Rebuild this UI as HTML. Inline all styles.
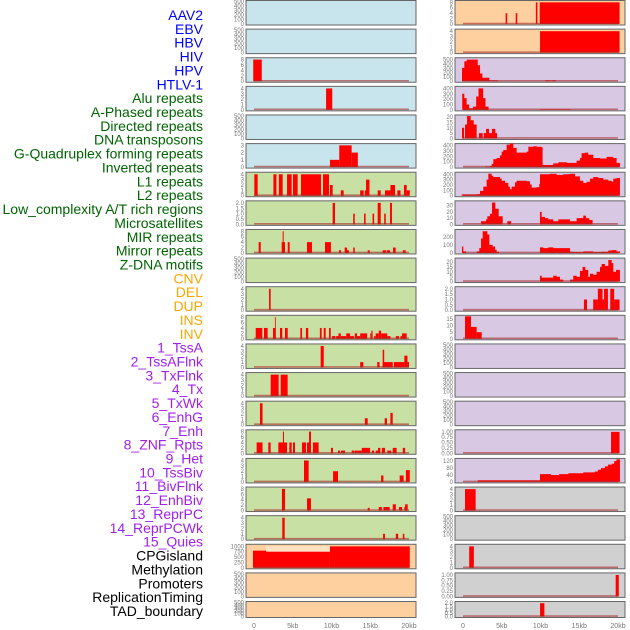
<!DOCTYPE html>
<html><head><meta charset="utf-8"><style>
html,body{margin:0;padding:0;background:#fff}
svg{display:block}
.lab{font-family:"Liberation Sans",sans-serif;font-size:14px}
.tk{font-family:"Liberation Sans",sans-serif;font-size:6px;fill:#777}
</style></head><body>
<svg id="chart" width="630" height="630" viewBox="0 0 630 630" xmlns="http://www.w3.org/2000/svg"></svg>
<script>
// ---- data ----
const rowLabels = ["AAV2","EBV","HBV","HIV","HPV","HTLV-1","Alu repeats","A-Phased repeats","Directed repeats","DNA transposons","G-Quadruplex forming repeats","Inverted repeats","L1 repeats","L2 repeats","Low_complexity A/T rich regions","Microsatellites","MIR repeats","Mirror repeats","Z-DNA motifs","CNV","DEL","DUP","INS","INV","1_TssA","2_TssAFlnk","3_TxFlnk","4_Tx","5_TxWk","6_EnhG","7_Enh","8_ZNF_Rpts","9_Het","10_TssBiv","11_BivFlnk","12_EnhBiv","13_ReprPC","14_ReprPCWk","15_Quies","CPGisland","Methylation","Promoters","ReplicationTiming","TAD_boundary"];
const labelGroups = [0,0,0,0,0,0,1,1,1,1,1,1,1,1,1,1,1,1,1,2,2,2,2,2,3,3,3,3,3,3,3,3,3,3,3,3,3,3,3,4,4,4,4,4];
const groupColors = ["#0000ff","#006400","#ffa500","#a020f0","#000000"];
const xTickVals = [0,5,10,15,20];
const xTickLabels = ["0","5kb","10kb","15kb","20kb"];

// left panel bg and scale
const leftBg = ["b","b","b","b","b","b","g","g","g","g","g","g","g","g","g","g","g","g","g","o","o","o"];
const rightBg = ["o","o","p","p","p","p","p","p","p","p","p","p","p","p","p","p","p","x","x","x","x","x"];
const leftMax = [500,500,8.3,4.2,500,3.1,4.2,2.1,8.3,500,4.2,8.3,4.2,4.2,4.2,8.3,4.2,8.3,4.2,1050,500,500];
const rightMax = [8.3,4.2,520,420,21,420,420,36,280,23,2.1,17,500,500,500,1.05,130,4.2,500,4.2,1.05,2.1];
const T500=["0","100","200","300","400","500"], T4=["0","1","2","3","4"], T8=["0","2","4","6","8"], T3=["0","1","2","3"], T2=["0.0","0.5","1.0","1.5","2.0"], T1=["0.00","0.25","0.50","0.75","1.00"];
const leftTicks = [T500,T500,T8,T4,T500,T3,T4,T2,T8,T500,T4,T8,T4,T4,T4,T8,T4,T8,T4,["0","250","500","750","1000"],T500,T500];
const rightTicks = [T8,T4,T500,["0","100","200","300","400"],["0","5","10","15","20"],["0","100","200","300","400"],["0","100","200","300","400"],["0","10","20","30"],["0","100","200"],["0","5","10","15","20"],T2,["0","5","10","15"],T500,T500,T500,T1,["0","40","80","120"],T4,T500,T4,T1,T2];

// left bars [startKb, endKb, value]
const L2 = [[-0.1,1.0,8]];
const L3 = [[9.3,10.1,4]];
const L5 = [[9.8,11.0,1],[11.0,12.6,3],[12.6,13.4,2]];
const L6 = [[0.04,0.47,4],[2.5,2.9,4],[3.2,3.7,4],[4.26,4.86,4],[5.03,5.63,4],[6.06,8.65,4],[8.9,9.68,4],[9.8,10.15,2],[11.2,11.57,1],[13.7,14.15,1],[14.3,14.45,1],[14.45,14.9,3],[15.96,16.35,1],[16.9,17.6,1],[17.6,18.2,2],[18.5,18.9,1],[19.35,19.7,2],[19.7,20.1,1]];
const L7 = [[10.15,10.45,2],[12.8,13.0,1],[14.2,14.4,1],[15.3,15.5,1],[15.96,16.35,2],[16.8,17.0,1],[17.55,17.8,2]];
const L8 = [[0.6,0.87,4],[3.57,4.0,4],[3.7,3.83,8],[4.35,4.6,4],[6.84,7.48,4],[9.16,9.93,4],[10.97,11.23,1],[11.7,12.0,2],[12.0,12.26,1],[12.8,13.0,2],[14.67,14.93,1],[16.6,17.07,1],[17.16,17.55,1],[17.94,18.28,2],[19.2,19.57,1]];
const L10 = [[1.94,2.15,4]];
const L11 = [[0.22,1.07,4],[1.29,1.76,4],[2.45,2.8,4],[2.7,2.8,8],[3.35,3.65,4],[4.0,4.35,4],[5.98,6.2,4],[6.7,7.0,4],[8.5,8.73,4],[9.0,9.25,4],[9.68,9.9,4],[10.06,10.5,1],[10.6,10.9,1],[10.9,11.2,2],[11.2,11.9,1],[11.9,12.4,2],[12.4,12.9,1],[13.0,13.3,2],[13.3,13.7,1],[13.7,14.6,2],[15.0,15.15,2],[15.15,15.3,3],[15.5,15.7,1],[15.7,16.1,2],[16.1,16.4,3],[16.4,17.2,2],[17.2,17.6,1],[18.3,18.7,1],[18.9,19.1,1],[19.1,19.7,2]];
const L12 = [[8.6,9.0,4],[13.7,14.1,1],[15.9,16.2,1],[16.6,17.9,1],[16.6,16.8,3.3],[18.05,19.4,1],[19.4,19.8,2.2],[19.8,20.0,1]];
const L13 = [[2.15,3.18,4],[3.44,4.34,4]];
const L14 = [[0.77,1.1,4],[14.3,14.67,1.2],[16.86,17.16,1.2],[17.6,17.9,2.2]];
const L15 = [[0.34,1.1,4],[1.85,2.15,4],[3.14,4.26,4],[3.74,3.87,8],[4.56,4.86,4],[5.03,5.29,4],[6.19,6.71,4],[6.84,7.35,4],[7.1,7.35,8],[7.6,8.34,4],[9.93,10.19,2],[10.84,11.1,1],[11.23,11.74,1],[12.6,12.9,1],[12.96,13.4,1],[13.4,13.9,1],[13.9,14.97,2],[15.2,15.5,1],[15.7,16.0,1],[16.0,16.3,2],[16.5,16.9,2],[17.2,17.7,1],[17.9,18.4,2],[19.2,19.5,2]];
const L16 = [[6.45,7.05,4],[10.2,10.84,2],[16.4,16.7,1.2],[18.8,19.3,1.2],[19.6,20.1,2.2]];
const L17 = [[3.6,4.0,8],[6.84,7.35,4.5],[14.67,14.93,1],[16.1,16.5,1.3],[16.7,17.5,1.3],[17.9,18.3,2.3],[18.7,19.1,1.3],[19.4,19.6,1.3],[19.5,19.83,2.3]];
const L18 = [[3.65,3.96,4],[16.65,16.9,1],[18.3,18.6,1],[19.2,19.4,1]];
const L19 = [[-0.13,1.55,800],[1.55,9.8,750],[9.8,20.1,1000]];
const L19pale = [[1.55,9.8,1000]];

// right bars
const R0 = [[5.5,5.7,4],[6.8,7.0,4],[9.4,9.6,8],[9.9,20.2,8]];
const R1 = [[9.94,20.2,4]];
const R10 = [[15.6,16.0,1],[16.8,17.4,1],[17.4,18.0,2],[18.0,18.2,1],[18.2,18.7,2],[19.0,19.5,2],[19.5,20.2,1]];
const R11 = [[0.26,1.03,17],[1.03,1.76,9],[1.76,2.41,5]];
const R15 = [[19.1,20.2,1]];
const R17 = [[0.26,1.63,4]];
const R19 = [[0.8,1.4,4]];
const R20 = [[19.7,20.1,1]];
const R21 = [[9.94,10.5,2]];

// right step series: edges (kb) and values per interval
const R2_edges = [-0.13,0.17,0.47,1.9,2.2,2.5,3.4,4.5,10.6,11.3,11.4,12.0];
const R2_vals = [310,460,500,370,180,80,20,0,20,0,20];
const R3_edges = [-0.1,0.17,0.47,0.8,1.3,1.7,2.0,2.6,2.9,3.3,9.9,13.9];
const R3_vals = [300,220,100,30,60,250,400,220,60,0,10];
const R4_edges = [-0.13,0.13,0.26,0.52,0.99,1.38,1.76,2.06,2.54,2.67,2.97,3.36,3.74,4.17,4.4];
const R4_vals = [10,0,13,21,17,13,0,5,0,5,9,5,9,5];
const R5_edges = [2.84,3.48,3.7,3.91,4.34,4.77,4.99,5.2,5.63,6.06,6.49,6.92,7.78,8.21,8.43,9.07,9.5,10.15,10.27,10.79,11.65,12.3,12.94,13.37,14.23,14.66,15.09,15.3,15.73,16.16,16.81,17.67,18.53,19.39,19.82,20.25];
const R5_vals = [10,20,60,150,170,220,290,320,420,440,360,270,270,290,380,390,380,370,40,40,70,90,90,80,80,120,170,260,270,230,170,160,190,170,80];
const R6_edges = [-0.17,1.76,2.19,2.62,3.05,3.27,3.7,3.91,4.77,4.99,5.42,5.85,6.06,6.28,6.71,6.92,8.21,8.64,8.86,9.5,9.84,9.93,10.58,11.22,12.08,12.94,13.8,14.45,15.09,15.52,15.95,16.38,16.81,17.46,18.1,18.75,19.18,19.39,19.82,20.25];
const R6_vals = [25,30,90,170,300,410,370,350,320,280,240,170,120,170,250,280,270,210,150,160,220,400,400,410,390,400,410,360,280,240,260,320,350,330,300,280,260,320,330];
const R7_edges = [2.32,2.97,3.14,3.48,3.74,4.17,4.6,5.12,5.71,6.19,9.93,10.15,10.58,11.0,11.65,12.3,13.8,14.66,15.52,15.86,16.3,16.72];
const R7_vals = [5,8,13,17,35,25,13,0,5,0,20,12,10,8,5,8,5,10,14,10,7];
const R8_edges = [-0.13,0.04,0.38,1.76,2.1,2.32,2.54,3.14,3.4,3.83,4.13,4.34,4.64,9.93,10.36,11.0,11.65,12.3,12.94,13.8,14.23,15.52,16.81,17.9,18.75,19.18,19.82,20.25];
const R8_vals = [80,20,0,20,60,180,270,230,100,80,40,15,0,70,60,70,60,60,60,15,10,20,10,15,30,35,20];
const R9_edges = [9.93,10.15,11.65,12.08,12.51,12.94,13.8,14.23,14.66,15.09,15.43,15.78,16.16,16.38,16.81,17.24,17.67,17.89,18.32,18.75,19.18,19.39,19.74,20.25];
const R9_vals = [6,4,6,5,2,0,2,6,5,11,15,12,5,8,7,10,15,18,16,22,19,10,12];
const R16_edges = [1.9,9.93,11.35,12.4,13.6,15.52,17.0,17.4,17.8,18.3,18.7,19.2,19.5,19.8,20.25];
const R16_vals = [10,45,40,45,50,55,60,70,80,90,100,105,120,130];

const leftBars = {2:L2,3:L3,5:L5,6:L6,7:L7,8:L8,10:L10,11:L11,12:L12,13:L13,14:L14,15:L15,16:L16,17:L17,18:L18,19:L19};
const rightBars = {0:R0,1:R1,10:R10,11:R11,15:R15,17:R17,19:R19,20:R20,21:R21};
const rightSteps = {2:[R2_edges,R2_vals],3:[R3_edges,R3_vals],4:[R4_edges,R4_vals],5:[R5_edges,R5_vals],6:[R6_edges,R6_vals],7:[R7_edges,R7_vals],8:[R8_edges,R8_vals],9:[R9_edges,R9_vals],16:[R16_edges,R16_vals]};

// ---- drawing ----
const NS="http://www.w3.org/2000/svg";
const svg=document.getElementById('chart');
const bgCol={b:"#c8e4ec",g:"#c8e0a4",o:"#fed0a0",p:"#d8c8e4",x:"#d0d0d0"};
const PITCH=28.62;
function mk(tag,attrs,parent){const e=document.createElementNS(NS,tag);for(const k in attrs)e.setAttribute(k,attrs[k]);(parent||svg).appendChild(e);return e;}
function panelGeom(i){const top=i*PITCH+0.5;const h=(i===21)?16:24.5;return {top,h,bot:top+h};}
const sides=[{x0:246,w:170,origin:254,bg:leftBg,max:leftMax,ticks:leftTicks,bars:leftBars,steps:{},name:'left'},
             {x0:455,w:170,origin:463,bg:rightBg,max:rightMax,ticks:rightTicks,bars:rightBars,steps:rightSteps,name:'right'}];
const KB=7.75;

sides.forEach(s=>{
  const xs=kb=>s.origin+kb*KB;
  for(let i=0;i<22;i++){
    const g=panelGeom(i);
    const grp=mk('g',{});
    
    
    const ymax=s.max[i];
    const ys=v=>g.bot-1-(v/ymax)*(g.h-2);
    const r=mk('rect',{x:s.x0,y:g.top,width:s.w,height:g.h,fill:bgCol[s.bg[i]],stroke:'#666','stroke-width':1},grp);
    
    
    // ticks
    const tl=s.ticks[i];
    tl.forEach((t,k)=>{
      const v=parseFloat(t);
      const y=ys(v)+2;
      const te=mk('text',{x:s.x0-2,y:y,'text-anchor':'end',class:'tk'},grp);
      te.textContent=t;
      
      
    });
    const has=s.bars[i]||s.steps[i];
    if(s.name==='left' && i===19){
      L19pale.forEach(b=>{
        const pr=mk('rect',{x:xs(b[0]),y:ys(b[2]),width:xs(b[1])-xs(b[0]),height:ys(0)-ys(b[2]),fill:'#fee2c4'},grp);
        
        
      });
    }
    if(s.steps[i]){
      const [ed,vl]=s.steps[i];
      let d='M'+xs(ed[0])+','+ys(0);
      for(let k=0;k<vl.length;k++){d+=' L'+xs(ed[k])+','+ys(vl[k])+' L'+xs(ed[k+1])+','+ys(vl[k]);}
      d+=' L'+xs(ed[ed.length-1])+','+ys(0)+' Z';
      const p=mk('path',{d:d,fill:'#ff0000'},grp);
      
      
    }
    if(s.bars[i]){
      s.bars[i].forEach(b=>{
        const br=mk('rect',{x:xs(b[0]),y:ys(b[2]),width:Math.max(0.8,xs(b[1])-xs(b[0])),height:ys(0)-ys(b[2]),fill:'#ff0000'},grp);
        
        
      });
    }
    if(has){
      const bl=mk('line',{x1:xs(0),x2:xs(20),y1:ys(0)-0.5,y2:ys(0)-0.5,stroke:'rgba(170,40,40,0.6)','stroke-width':1.6},grp);
      
      
    }
  }
  xTickVals.forEach((v,k)=>{
    const t=mk('text',{x:xs(v),y:628,'text-anchor':'middle',class:'tk','font-size':'7px'});
    t.style.fontSize='7px';
    t.textContent=xTickLabels[k];
    
    
  });
});

rowLabels.forEach((l,k)=>{
  const t=mk('text',{x:203,y:20+k*13.86,'text-anchor':'end',class:'lab',fill:groupColors[labelGroups[k]]});
  t.textContent=l;
  
  
});
</script>
</body></html>
